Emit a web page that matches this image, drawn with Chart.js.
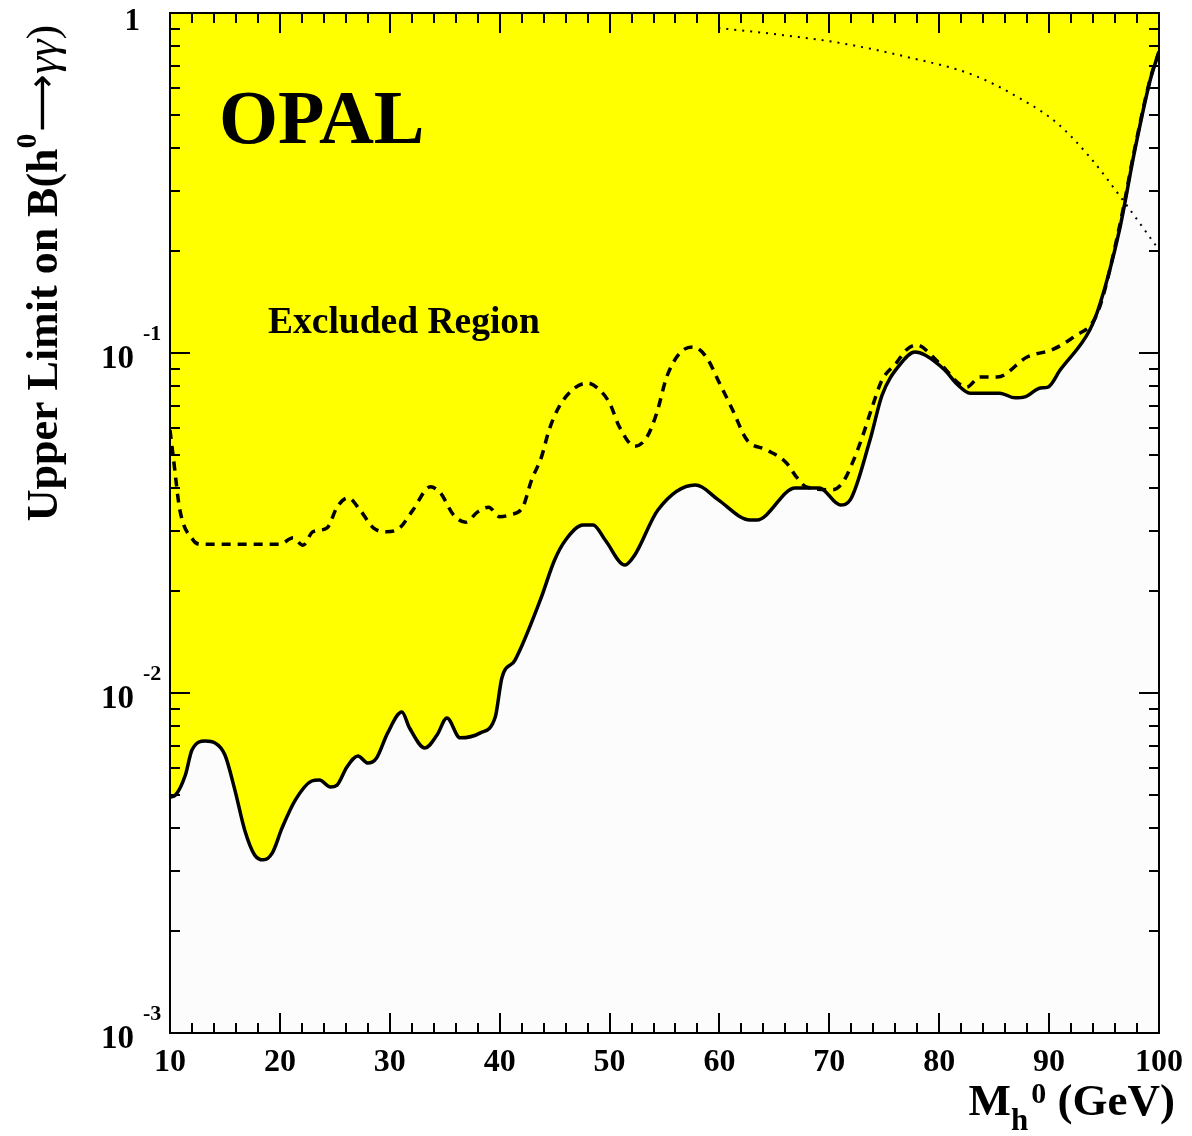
<!DOCTYPE html>
<html>
<head>
<meta charset="utf-8">
<script src="https://cdn.jsdelivr.net/npm/chart.js@4.4.0/dist/chart.umd.min.js"></script>
<style>
  html, body { margin: 0; padding: 0; background: #fff; }
</style>
</head>
<body>
<canvas id="opalChart" width="1192" height="1136"></canvas>
<script>
// observed upper limit (solid line), Higgs mass in GeV
const obsMass = [10.0,10.5,11.4,12.0,13.2,14.1,15.0,15.9,16.8,17.7,18.5,19.3,20.2,21.4,22.9,23.6,24.6,25.2,26.1,27.1,28.0,28.8,29.8,31.1,31.8,33.2,34.3,35.2,36.4,38.2,39.6,40.2,41.4,43.7,45.0,46.0,47.6,48.5,49.6,51.4,52.3,54.4,57.8,58.4,59.9,62.8,63.4,66.9,69.1,71.0,71.9,73.7,74.8,76.4,77.8,78.7,80.5,81.7,82.8,85.5,86.9,87.8,89.2,89.9,91.0,93.7,94.6,96.4,97.8,99.2,100];
const obsLimit = [0.00494,0.00501,0.00574,0.00680,0.00722,0.00713,0.00657,0.00519,0.00395,0.00334,0.00323,0.00338,0.00401,0.00484,0.00551,0.00555,0.00529,0.00536,0.00606,0.00653,0.00622,0.00644,0.00762,0.00879,0.00789,0.00689,0.00752,0.00844,0.00738,0.00762,0.00850,0.01107,0.01250,0.01878,0.02461,0.02818,0.03119,0.03119,0.02818,0.02378,0.02547,0.03454,0.04090,0.04036,0.03698,0.03228,0.03228,0.04009,0.04009,0.03573,0.03698,0.05549,0.07518,0.09226,0.1007,0.0987,0.0891,0.0805,0.0762,0.0762,0.0738,0.0743,0.0789,0.0794,0.0891,0.1169,0.1384,0.230,0.395,0.635,0.768];

// expected limit (dashed line)
const expMass = [10.0,10.3,10.9,12.1,12.7,20.0,21.2,22.1,23.0,24.3,25.2,26.2,27.3,28.5,29.7,30.9,32.1,33.7,34.6,35.8,36.9,38.0,39.0,40.0,40.9,42.1,42.9,43.8,44.5,45.4,46.6,48.0,48.9,50.0,50.9,52.3,53.4,54.3,55.2,56.4,57.6,58.8,60.0,61.2,62.5,64.3,66.1,67.0,67.9,70.3,71.2,72.1,73.0,73.9,74.8,76.1,77.0,77.9,80.0,82.5,83.7,85.3,88.0,90.4,92.2,94.4,96.4,97.8,99.2,100];
const expLimit = [0.0594,0.0494,0.0345,0.0282,0.0274,0.0274,0.0286,0.0272,0.0298,0.0306,0.0352,0.0375,0.0345,0.0306,0.0298,0.0306,0.0345,0.0404,0.0388,0.0334,0.0318,0.0341,0.0352,0.0330,0.0334,0.0352,0.0423,0.0494,0.0594,0.0694,0.0778,0.0816,0.0789,0.0713,0.0606,0.0532,0.0566,0.0667,0.0850,0.1000,0.1042,0.0973,0.0816,0.0680,0.0555,0.0519,0.0475,0.0432,0.0404,0.0396,0.0415,0.0475,0.0566,0.0694,0.0833,0.0935,0.1021,0.1056,0.0935,0.0794,0.0850,0.0850,0.0973,0.1027,0.1114,0.1312,0.235,0.40,0.64,0.77];

// dotted curve
const dotMass = [59.9,65.0,71.0,77.1,83.1,87.6,90.7,93.7,96.7,100];
const dotBr   = [0.903,0.867,0.816,0.742,0.657,0.555,0.475,0.377,0.282,0.201];

const xTickValues = [10,20,30,40,50,60,70,80,90,100];
const yDecades = [1, 0.1, 0.01, 0.001];
const yTickExponents = ['', '-1', '-2', '-3'];

const toPoints = (xs, ys) => xs.map((x, i) => ({ x: x, y: ys[i] }));

const SERIF = '"Liberation Serif", "Times New Roman", serif';

// draws text pieces one after another along a baseline
function fontOf(p) {
    return (p.style || 'bold') + ' ' + p.size + 'px ' + (p.family || SERIF);
}
function drawPieces(ctx, pieces, x, y) {
    let cx = x;
    pieces.forEach(p => {
        ctx.font = fontOf(p);
        ctx.fillText(p.t, cx, y + (p.dy || 0));
        cx += ctx.measureText(p.t).width + (p.gap || 0);
    });
    return cx - x;
}
function piecesWidth(ctx, pieces) {
    let w = 0;
    pieces.forEach(p => {
        ctx.font = fontOf(p);
        w += ctx.measureText(p.t).width + (p.gap || 0);
    });
    return w;
}

const framePlugin = {
    id: 'framePlugin',
    beforeDraw(chart) {
        const { ctx, chartArea: a } = chart;
        ctx.save();
        ctx.fillStyle = '#fcfcfc';
        ctx.fillRect(a.left, a.top, a.right - a.left, a.bottom - a.top);
        ctx.restore();
    },
    afterDraw(chart) {
        const { ctx, chartArea: a, scales } = chart;
        const xs = scales.x, ys = scales.y;
        ctx.save();
        ctx.strokeStyle = '#000';
        ctx.fillStyle = '#000';
        ctx.lineWidth = 2;
        ctx.strokeRect(a.left, a.top, a.right - a.left, a.bottom - a.top);

        // x ticks every 2 GeV, major every 10, on bottom and top
        ctx.beginPath();
        for (let m = 10; m <= 100; m += 2) {
            const px = Math.round(xs.getPixelForValue(m));
            const len = (m % 10 === 0) ? 20 : 10;
            ctx.moveTo(px, a.bottom); ctx.lineTo(px, a.bottom - len);
            ctx.moveTo(px, a.top); ctx.lineTo(px, a.top + len);
        }
        // y ticks on left and right
        for (let d = -3; d <= 0; d++) {
            for (let k = 1; k <= 9; k++) {
                const v = k * Math.pow(10, d);
                if (v > 1.0001) break;
                const py = Math.round(ys.getPixelForValue(v));
                const len = (k === 1) ? 20 : 10;
                ctx.moveTo(a.left, py); ctx.lineTo(a.left + len, py);
                ctx.moveTo(a.right, py); ctx.lineTo(a.right - len, py);
            }
        }
        ctx.stroke();

        // x tick labels
        ctx.font = 'bold 32px ' + SERIF;
        ctx.textAlign = 'center';
        ctx.textBaseline = 'alphabetic';
        xTickValues.forEach(v => {
            ctx.fillText(String(v), xs.getPixelForValue(v), 1071);
        });

        // y tick labels
        yDecades.forEach((v, i) => {
            const py = ys.getPixelForValue(v);
            ctx.textAlign = 'right';
            if (yTickExponents[i] === '') {
                ctx.font = 'bold 31px ' + SERIF;
                ctx.fillText('1', 140, py + 17);
            } else {
                ctx.font = 'bold 33px ' + SERIF;
                ctx.fillText('10', 134, py + 15);
                ctx.textAlign = 'left';
                ctx.font = 'bold 22px ' + SERIF;
                ctx.fillText(yTickExponents[i], 143, py - 13);
            }
        });

        // x axis title
        ctx.textAlign = 'left';
        const xt = [
            { t: 'M', size: 45 },
            { t: 'h', size: 31, dy: 15, gap: 3 },
            { t: '0', size: 30, dy: -12 },
            { t: ' (GeV)', size: 45 }
        ];
        drawPieces(ctx, xt, 1175 - piecesWidth(ctx, xt), 1115);

        // y axis title, rotated
        const yt = [
            { t: 'Upper Limit on B(h', size: 44 },
            { t: '0', size: 30, dy: -21, gap: 2 },
            { t: '\u27f6', size: 40, style: 'normal', family: '"DejaVu Sans", sans-serif', dy: -2 },
            { t: '\u03b3\u03b3', size: 44, style: 'italic' },
            { t: ')', size: 44, style: 'normal' }
        ];
        ctx.save();
        ctx.translate(57, 0);
        ctx.rotate(-Math.PI / 2);
        const w = piecesWidth(ctx, yt);
        drawPieces(ctx, yt, -(273 + w / 2), 0);
        ctx.restore();

        // annotations
        ctx.textAlign = 'left';
        ctx.font = 'bold 76px ' + SERIF;
        ctx.fillText('OPAL', 219, 143);
        ctx.font = 'bold 37.5px ' + SERIF;
        ctx.fillText('Excluded Region', 268, 333);
        ctx.restore();
    }
};

const ctx = document.getElementById('opalChart').getContext('2d');
const opalChart = new Chart(ctx, {
    type: 'line',
    data: {
        datasets: [
            {
                label: 'Observed',
                data: toPoints(obsMass, obsLimit),
                borderColor: '#000',
                borderWidth: 3.5,
                backgroundColor: '#ffff00',
                fill: 'end',
                pointRadius: 0,
                cubicInterpolationMode: 'monotone'
            },
            {
                label: 'Expected',
                data: toPoints(expMass, expLimit),
                borderColor: '#000',
                borderWidth: 3.5,
                borderDash: [9, 7],
                fill: false,
                pointRadius: 0,
                cubicInterpolationMode: 'monotone'
            },
            {
                label: 'Dotted',
                data: toPoints(dotMass, dotBr),
                borderColor: '#000',
                borderWidth: 2,
                borderDash: [2, 6],
                fill: false,
                pointRadius: 0,
                cubicInterpolationMode: 'monotone'
            }
        ]
    },
    options: {
        responsive: false,
        animation: false,
        devicePixelRatio: 1,
        layout: { padding: { left: 170, right: 33, top: 13, bottom: 103 } },
        scales: {
            x: { type: 'linear', min: 10, max: 100, display: false },
            y: { type: 'logarithmic', min: 0.001, max: 1, display: false }
        },
        plugins: {
            legend: { display: false },
            tooltip: { enabled: false },
            filler: { drawTime: 'beforeDatasetsDraw' }
        }
    },
    plugins: [framePlugin]
});
</script>
</body>
</html>
